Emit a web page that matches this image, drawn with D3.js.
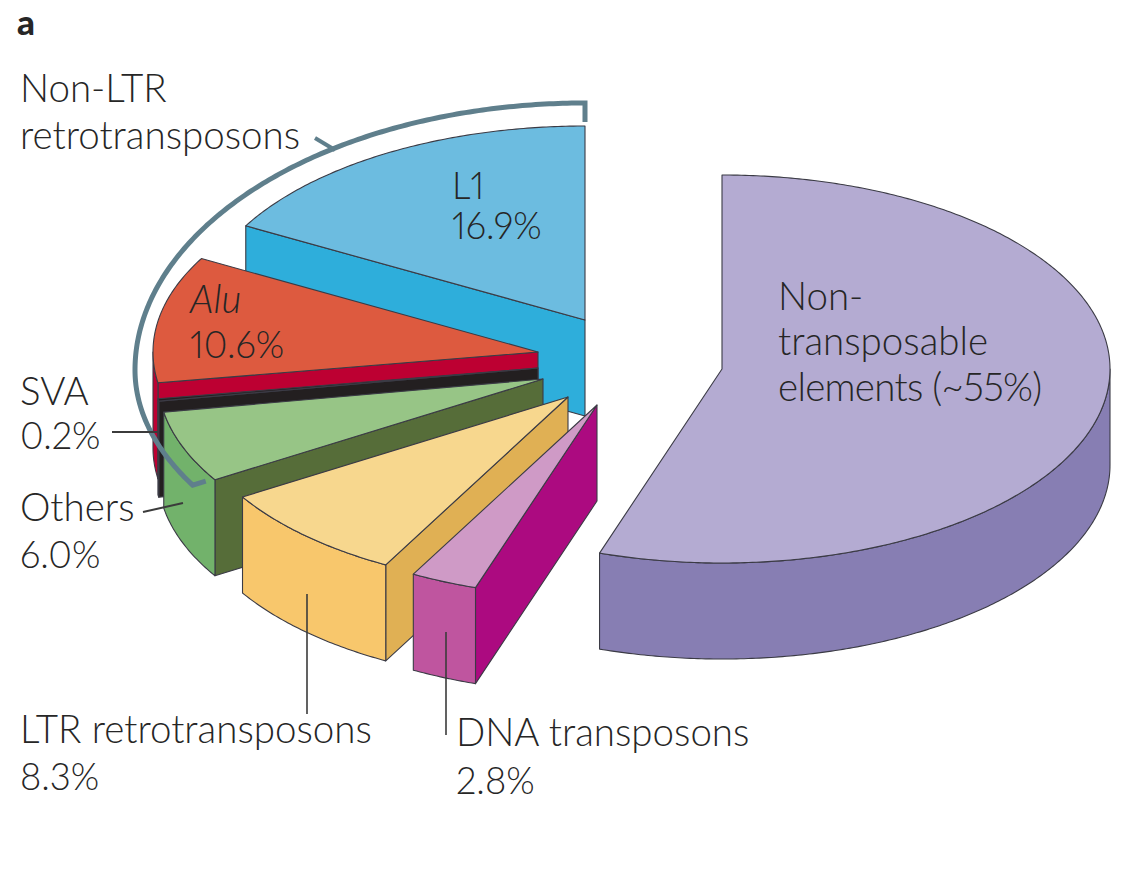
<!DOCTYPE html>
<html>
<head>
<meta charset="utf-8">
<script src="https://cdn.jsdelivr.net/npm/d3@7/dist/d3.min.js"></script>
<style>
  html, body { margin: 0; padding: 0; background: #fff; }
  svg { display: block; }
  text { font-family: Lato, "Open Sans", sans-serif; font-weight: 300; fill: #262626; font-size: 38.5px; font-variant-numeric: proportional-nums; font-feature-settings: "pnum" 1; }
  text.num { font-size: 36.5px; }
</style>
</head>
<body>
<svg id="chart" width="1124" height="889"></svg>
<script>
// Share of the human genome by element class, clockwise from twelve o'clock.
const categories = ["Non-transposable elements", "DNA transposons", "LTR retrotransposons", "Others", "SVA", "Alu", "L1"];
const shares = [55, 2.8, 8.3, 6.0, 0.2, 10.6, 16.9];

// Exploded position of each wedge's apex on the page, and its drawn radius.
const apexX = [722, 597, 568, 543, 538, 538, 585];
const apexY = [369, 405, 397, 379, 368, 352, 320];
const radii = [388, 385, 382, 385, 385, 385, 388];

// Top, outer wall and cut-face colours per wedge.
const topFill = ["#b4abd2", "#cf9ac6", "#f7d78e", "#97c586", "#231f20", "#dd5a3f", "#6cbce0"];
const wallFill = ["#877eb3", "#bf559f", "#f8c76c", "#72b26b", "#231f20", "#bd0032", "#2eaedb"];
const faceFill = ["#877eb3", "#ac0a80", "#e0b054", "#566d39", "#231f20", "#bd0032", "#2eaedb"];

// Painter's order: back wedges first.
const drawOrder = [6, 5, 4, 3, 2, 1, 0];

const tilt = 0.5, depth = 96;
const outline = "#3b3b45";

const svg = d3.select("#chart");
const wedges = d3.pie().sort(null).value(d => d)(shares);

const project = (i, a, r = radii[i], drop = 0) => [
  apexX[i] + r * Math.sin(a),
  apexY[i] - r * tilt * Math.cos(a) + drop
];
const arcSamples = (a0, a1) => {
  const n = Math.max(2, Math.ceil(Math.abs(a1 - a0) / 0.01));
  return d3.range(n + 1).map(k => a0 + (a1 - a0) * k / n);
};
const line = d3.line();
const closed = pts => line(pts) + "Z";

const face = (i, a) => [project(i, a, 0), project(i, a), project(i, a, radii[i], depth), project(i, a, 0, depth)];

drawOrder.forEach(i => {
  const { startAngle: s, endAngle: e } = wedges[i];
  const g = svg.append("g").attr("class", "wedge")
    .attr("stroke", outline).attr("stroke-width", 1.1).attr("stroke-linejoin", "round");

  // Cut faces that turn toward the viewer.
  if (s > Math.PI) g.append("path").attr("d", closed(face(i, s))).attr("fill", faceFill[i]);
  if (e < Math.PI) g.append("path").attr("d", closed(face(i, e))).attr("fill", faceFill[i]);

  // Outer wall: only the near half of the rim shows.
  const w0 = Math.max(s, Math.PI / 2), w1 = Math.min(e, 3 * Math.PI / 2);
  if (w1 > w0) {
    const angles = arcSamples(w0, w1);
    const rim = angles.map(a => project(i, a));
    const base = angles.slice().reverse().map(a => project(i, a, radii[i], depth));
    g.append("path").attr("d", closed(rim.concat(base))).attr("fill", wallFill[i]);
  }

  // Top surface.
  const topPts = [project(i, s, 0)].concat(arcSamples(s, e).map(a => project(i, a)));
  g.append("path").attr("d", closed(topPts)).attr("fill", topFill[i]);
});

// Bracket spanning the non-LTR groups, with a flatter lower limb.
const bracketCx = 585, bracketCy = 370, bracketRx = 450, bracketUpper = 267, bracketLower = 235;
const bracketPoint = a => {
  const c = Math.cos(a);
  return [bracketCx + bracketRx * Math.sin(a), bracketCy - (c > 0 ? bracketUpper : bracketLower) * c];
};
const bracketArc = arcSamples(2 * Math.PI, 2 * Math.PI * 0.6685).map(bracketPoint);
const first = bracketArc[0], last = bracketArc[bracketArc.length - 1];
svg.append("path")
  .attr("d", line([[first[0], first[1] + 19]].concat(bracketArc, [[last[0] + 13, last[1] - 4]])))
  .attr("fill", "none").attr("stroke", "#5f7f8c").attr("stroke-width", 5).attr("stroke-linejoin", "miter");

// Leader lines from labels to wedges.
const leaders = [
  { pts: [[315, 138], [335, 150]], color: "#5f7f8c", width: 4 },
  { pts: [[112, 432], [158, 432]], color: "#3b3b3b", width: 2 },
  { pts: [[143, 512], [183, 503]], color: "#3b3b3b", width: 2 },
  { pts: [[307, 594], [307, 714]], color: "#3b3b3b", width: 1.6 },
  { pts: [[446, 632], [446, 735]], color: "#3b3b3b", width: 1.6 }
];
svg.selectAll("path.leader").data(leaders).join("path").attr("class", "leader")
  .attr("d", d => line(d.pts)).attr("fill", "none")
  .attr("stroke", d => d.color).attr("stroke-width", d => d.width);

// Text labels; percentages come from the shares above.
const pct = i => d3.format(".1f")(shares[i]) + "%";
const labels = [
  { x: 20, y: 102, t: "Non-LTR" },
  { x: 20, y: 149, t: "retrotransposons" },
  { x: 452, y: 199, t: categories[6], num: true },
  { x: 452, y: 239, t: pct(6), num: true },
  { x: 190, y: 313, t: categories[5], italic: true },
  { x: 190, y: 358, t: pct(5), num: true },
  { x: 20, y: 405, t: categories[4] },
  { x: 20, y: 449, t: pct(4), num: true },
  { x: 20, y: 521, t: categories[3] },
  { x: 20, y: 568, t: pct(3), num: true },
  { x: 20, y: 743, t: categories[2] },
  { x: 20, y: 790, t: pct(2), num: true },
  { x: 456, y: 746, t: categories[1] },
  { x: 456, y: 794, t: pct(1), num: true },
  { x: 778, y: 310, t: "Non-" },
  { x: 778, y: 355, t: "transposable" },
  { x: 778, y: 401, t: "elements (~55%)", tight: true }
];
svg.selectAll("text.label").data(labels).join("text")
  .attr("class", d => d.num ? "label num" : "label")
  .attr("x", d => d.x).attr("y", d => d.y)
  .style("font-style", d => d.italic ? "italic" : null)
  .style("letter-spacing", d => d.tight ? "-0.7px" : null)
  .text(d => d.t);

svg.append("text").attr("x", 17).attr("y", 35)
  .style("font-weight", 900).style("font-size", "35px").text("a");
</script>
</body>
</html>
